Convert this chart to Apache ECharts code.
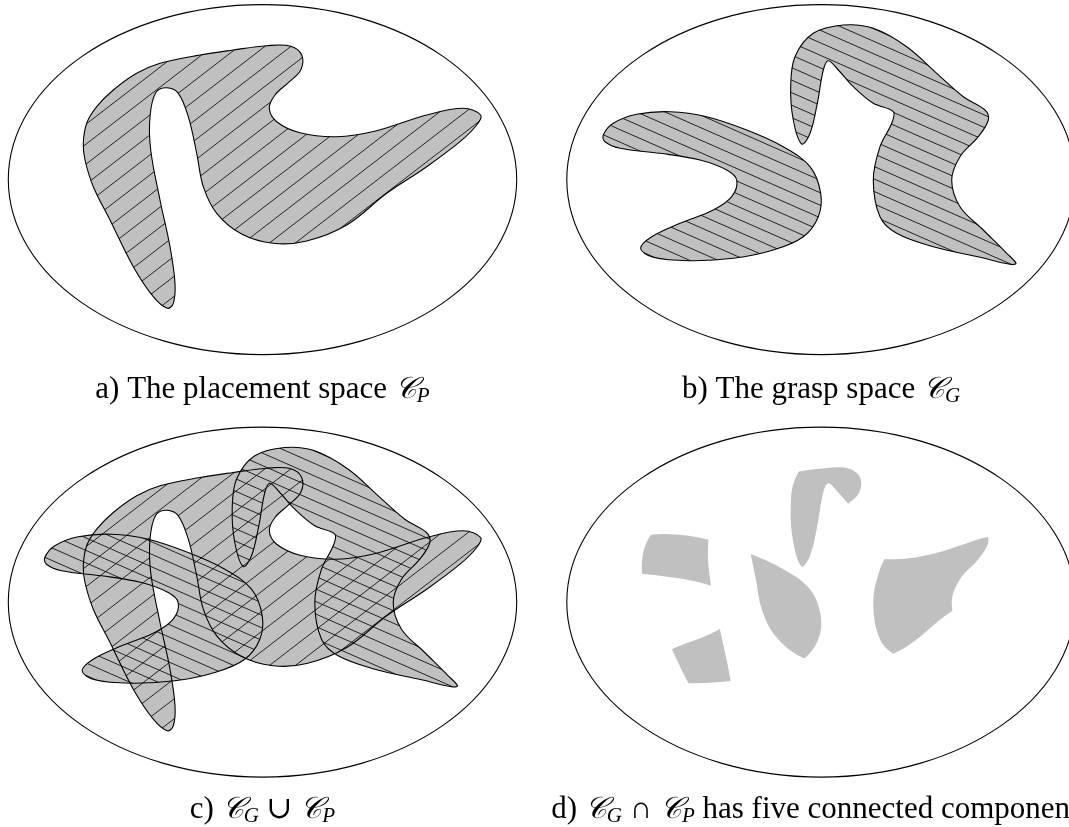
<!DOCTYPE html>
<html><head><meta charset="utf-8">
<script src="https://cdn.jsdelivr.net/npm/echarts@6/dist/echarts.min.js"></script>
<style>html,body{margin:0;padding:0;background:#fff}#c{width:1069px;height:827px}</style>
</head><body><div id="c"></div>
<script>
// ---- data (panel-local units, 1 unit = 1 px) ----
const ellipseParams = [262.5, 179.6, 254.2, 175]; // cx, cy, rx, ry
const placementOutline = [[167.3,308.3],[153.3,296.7],[133.3,266.7],[110,220],[93.3,186.7],[85,160],[83.3,143.3],[86.7,123.3],[96.7,106.7],[113.3,90],[136.7,73.3],[160,63.3],[200,55],[233.3,50],[266.7,45.7],[290,46],[301.7,55],[300.7,70],[288.3,82.7],[275,95],[269.3,108.3],[276.7,121.7],[300,132.7],[336.7,136.7],[376.7,130.7],[426.7,115],[463.3,108.3],[480.7,115],[476.7,125],[460,141.7],[426.7,166.7],[386.7,193.3],[346.7,225],[306.7,241],[273.3,243.3],[241.7,234],[216.7,213.3],[203.3,186.7],[196.7,153.3],[188.3,116.7],[178.3,93.3],[166.7,87.7],[155.7,92.7],[150,116.7],[150.7,150],[160,200],[170,246.7],[175,283.3],[173.3,303.3]];
const graspLobeOutline = [[44.8,135],[54.8,123.3],[78.2,114.3],[111.5,111.7],[148.2,116.7],[188.2,130],[224.8,146.7],[251.5,166.7],[262.2,193.3],[259.8,216.7],[244.8,236.7],[214.8,250],[174.8,258.3],[131.5,260.7],[94.8,257.3],[82.2,248.3],[93.2,236.7],[121.5,223.3],[154.8,210],[173.2,196.7],[178.2,180],[168.2,170],[141.5,160],[101.5,153.3],[61.5,148.3],[46.5,141.7]];
const graspHookOutline = [[243.2,144],[234.8,120],[232.2,86.7],[236.5,56.7],[254.8,33.3],[284.8,25],[314.8,28.3],[348.2,46.7],[378.2,73.3],[404.8,96.7],[426.5,110],[429.8,120],[419.8,136.7],[401.5,156.7],[393.2,180],[401.5,206.7],[424.8,230],[448.2,253.3],[457.5,263.3],[451.5,264.3],[421.5,257.3],[374.8,246.7],[338.2,233.3],[321.5,216.7],[314.8,180],[321.5,146.7],[333.2,123.3],[334.8,111.7],[314.8,103.3],[294.8,86.7],[279.8,70],[269.8,60.7],[264.8,70],[258.8,103.3],[251.5,133.3]];
const captionTexts = [
  'a) The placement space {m|𝒞}{s|P}',
  'b) The grasp space {m|𝒞}{s|G}',
  'c) {m|𝒞}{s|G} ∪ {m|𝒞}{s|P}',
  'd) {m|𝒞}{s|G} ∩ {m|𝒞}{s|P} has five connected components'
];

// ---- layout / style ----
const PANEL_W = 510, PANEL_H = 370;
const panels = [{left:0, top:0}, {left:558.5, top:0}, {left:0, top:422.5}, {left:558.5, top:422.5}];
const captionPos = [[262.5, 390], [821, 390], [262.5, 810], [821, 810]];
const SMOOTH = 0.36;
const FILL = '#c0c0c0';
const HATCH_P = {slope: -0.77, gap: 20, phase: 250.4};
const HATCH_G = {slope: 0.44, gap: 12.5, phase: 102.6};

const P = {pts: placementOutline, hatch: HATCH_P};
const G1 = {pts: graspLobeOutline, hatch: HATCH_G};
const G2 = {pts: graspHookOutline, hatch: HATCH_G};

function polyShape(api, pts) { return {points: pts.map(p => api.coord(p)), smooth: SMOOTH}; }

function hatchGroup(api, pts, h) {
  const xs = pts.map(p => p[0]), ys = pts.map(p => p[1]);
  const x0 = Math.min(...xs) - 5, x1 = Math.max(...xs) + 5;
  const y0 = Math.min(...ys) - 5, y1 = Math.max(...ys) + 5;
  const cv = [y0 - h.slope * x0, y0 - h.slope * x1, y1 - h.slope * x0, y1 - h.slope * x1];
  const kmin = Math.floor((Math.min(...cv) - h.phase) / h.gap);
  const kmax = Math.ceil((Math.max(...cv) - h.phase) / h.gap);
  const children = [];
  for (let k = kmin; k <= kmax; k++) {
    const c = h.phase + k * h.gap;
    const a = api.coord([x0, h.slope * x0 + c]), b = api.coord([x1, h.slope * x1 + c]);
    children.push({type: 'line', shape: {x1: a[0], y1: a[1], x2: b[0], y2: b[1]},
      style: {stroke: '#111', lineWidth: 0.9}});
  }
  return {type: 'group', children, clipPath: {type: 'polygon', shape: polyShape(api, pts)}};
}

function base(gi, data, renderItem) {
  return {type: 'custom', coordinateSystem: 'cartesian2d', xAxisIndex: gi, yAxisIndex: gi,
    silent: true, animation: false, clip: false, data, renderItem};
}

function ellipseSeries(gi) {
  return base(gi, [[ellipseParams[0], ellipseParams[1]]], (params, api) => {
    const c = api.coord([ellipseParams[0], ellipseParams[1]]);
    const s = api.size([ellipseParams[2], ellipseParams[3]]);
    return {type: 'ellipse', shape: {cx: c[0], cy: c[1], rx: s[0], ry: s[1]},
      style: {fill: 'none', stroke: '#000', lineWidth: 1.1}};
  });
}

function layerSeries(gi, shapes, layer) {
  return base(gi, shapes.map((s, i) => [i]), (params, api) => {
    const s = shapes[params.dataIndex];
    if (layer === 'fill') return {type: 'polygon', shape: polyShape(api, s.pts), style: {fill: FILL, stroke: 'none'}};
    if (layer === 'hatch') return hatchGroup(api, s.pts, s.hatch);
    return {type: 'polygon', shape: polyShape(api, s.pts), style: {fill: 'none', stroke: '#000', lineWidth: 1.1}};
  });
}

function intersectSeries(gi, a, bs) {
  return base(gi, bs.map((b, i) => [i]), (params, api) => ({
    type: 'polygon', shape: polyShape(api, a.pts), style: {fill: FILL, stroke: 'none'},
    clipPath: {type: 'polygon', shape: polyShape(api, bs[params.dataIndex].pts)}
  }));
}

const series = [];
for (let i = 0; i < 4; i++) series.push(ellipseSeries(i));
['fill', 'hatch', 'outline'].forEach(l => series.push(layerSeries(0, [P], l)));
['fill', 'hatch', 'outline'].forEach(l => series.push(layerSeries(1, [G1, G2], l)));
['fill', 'hatch', 'outline'].forEach(l => series.push(layerSeries(2, [P, G1, G2], l)));
series.push(intersectSeries(3, P, [G1, G2]));

const serif = '"Liberation Serif", "DejaVu Serif", serif';
const chart = echarts.init(document.getElementById('c'), null, {renderer: 'canvas'});
chart.setOption({
  backgroundColor: '#fff',
  animation: false,
  grid: panels.map(p => ({left: p.left, top: p.top, width: PANEL_W, height: PANEL_H, show: false})),
  xAxis: panels.map((p, i) => ({gridIndex: i, type: 'value', min: 0, max: PANEL_W, show: false})),
  yAxis: panels.map((p, i) => ({gridIndex: i, type: 'value', min: 0, max: PANEL_H, inverse: true, show: false})),
  title: captionTexts.map((t, i) => ({
    text: t, left: captionPos[i][0], top: captionPos[i][1], textAlign: 'center', textVerticalAlign: 'middle', padding: 0,
    textStyle: {fontFamily: serif, fontSize: 31, fontWeight: 'normal', color: '#000',
      rich: {
        m: {fontFamily: '"DejaVu Serif", "DejaVu Sans", serif', fontSize: 30, fontStyle: 'italic', color: '#000'},
        s: {fontFamily: serif, fontSize: 21, fontStyle: 'italic', color: '#000', padding: [12, 0, 0, 0]}
      }}
  })),
  series
});
</script></body></html>
